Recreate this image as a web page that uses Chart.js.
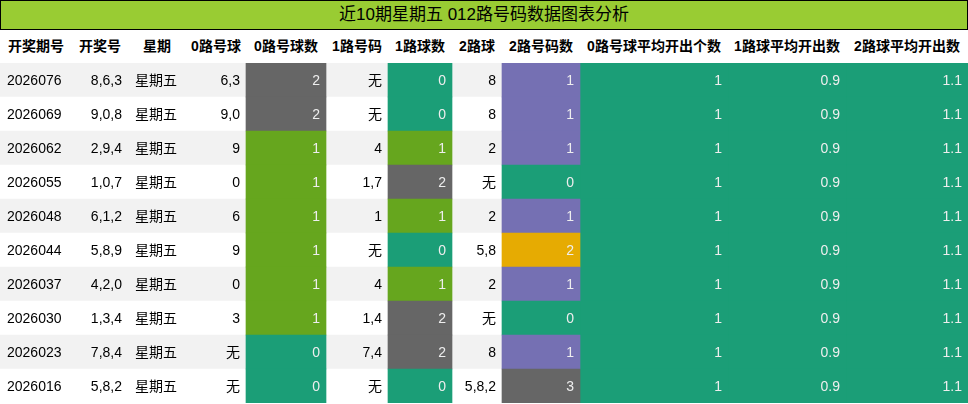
<!DOCTYPE html>
<html>
<head>
<meta charset="utf-8">
<script src="https://cdn.jsdelivr.net/npm/chart.js@4/dist/chart.umd.min.js"></script>
<style>
    body { margin: 0; width: 968px; height: 404px; overflow: hidden; background: #fff; font-family: "Liberation Sans", "Noto Sans CJK SC", sans-serif; }
    #title { box-sizing: border-box; height: 30px; line-height: 28px; background: #99cc33; border: 1px solid #000; text-align: center; font-size: 17px; color: #000; }
    #header { position: relative; height: 33px; }
    #header div { position: absolute; top: 0; height: 33px; line-height: 33px; font-size: 14px; font-weight: bold; text-align: center; }
</style>
</head>
<body>
<div id="title">近10期星期五 012路号码数据图表分析</div>
<div id="header"></div>
<canvas id="table" width="968" height="340"></canvas>
<script>
const headers = ['开奖期号', '开奖号', '星期', '0路号球', '0路号球数', '1路号码', '1路球数', '2路球', '2路号码数', '0路号球平均开出个数', '1路球平均开出数', '2路球平均开出数'];
const issues = ['2026076', '2026069', '2026062', '2026055', '2026048', '2026044', '2026037', '2026030', '2026023', '2026016'];
const draws = ['8,6,3', '9,0,8', '2,9,4', '1,0,7', '6,1,2', '5,8,9', '4,2,0', '1,3,4', '7,8,4', '5,8,2'];
const weekdays = ['星期五', '星期五', '星期五', '星期五', '星期五', '星期五', '星期五', '星期五', '星期五', '星期五'];
const zeroNums = ['6,3', '9,0', '9', '0', '6', '9', '0', '3', '无', '无'];
const zeroCount = [2, 2, 1, 1, 1, 1, 1, 1, 0, 0];
const oneNums = ['无', '无', '4', '1,7', '1', '无', '4', '1,4', '7,4', '无'];
const oneCount = [0, 0, 1, 2, 1, 0, 1, 2, 2, 0];
const twoNums = ['8', '8', '2', '无', '2', '5,8', '2', '无', '8', '5,8,2'];
const twoCount = [1, 1, 1, 0, 1, 2, 1, 0, 1, 3];
const avgZero = [1, 1, 1, 1, 1, 1, 1, 1, 1, 1];
const avgOne = [0.9, 0.9, 0.9, 0.9, 0.9, 0.9, 0.9, 0.9, 0.9, 0.9];
const avgTwo = [1.1, 1.1, 1.1, 1.1, 1.1, 1.1, 1.1, 1.1, 1.1, 1.1];

/* layout */
const edges = [0, 72, 128, 186, 246, 326, 388, 452, 502, 580, 728, 846, 968];
const teal = '#1b9e77', green = '#66a61e', gray = '#666666', purple = '#7570b3', orange = '#e6ab02';
const countColors = { 0: teal, 1: green, 2: gray };
const twoColors = { 0: teal, 1: purple, 2: orange, 3: gray };

const columns = [
    { values: issues, align: 'left' },
    { values: draws },
    { values: weekdays, align: 'left' },
    { values: zeroNums },
    { values: zeroCount, colors: zeroCount.map(v => countColors[v]) },
    { values: oneNums },
    { values: oneCount, colors: oneCount.map(v => countColors[v]) },
    { values: twoNums },
    { values: twoCount, colors: twoCount.map(v => twoColors[v]) },
    { values: avgZero, colors: avgZero.map(() => teal) },
    { values: avgOne, colors: avgOne.map(() => teal) },
    { values: avgTwo, colors: avgTwo.map(() => teal) }
];

const header = document.getElementById('header');
headers.forEach(function (h, i) {
    const d = document.createElement('div');
    d.style.left = edges[i] + 'px';
    d.style.width = (edges[i + 1] - edges[i]) + 'px';
    d.textContent = h;
    header.appendChild(d);
});

const datasets = [{
    data: issues.map(y => ({ x: [0, 968], y: y })),
    backgroundColor: issues.map((_, i) => i % 2 === 0 ? '#f2f2f2' : '#ffffff'),
    order: 10
}];
columns.forEach(function (col, c) {
    if (!col.colors) return;
    datasets.push({
        data: issues.map(y => ({ x: [edges[c], edges[c + 1]], y: y })),
        backgroundColor: col.colors,
        order: 0
    });
});

const cellText = {
    id: 'cellText',
    afterDatasetsDraw(chart) {
        const ctx = chart.ctx, xs = chart.scales.x, ys = chart.scales.y;
        ctx.save();
        ctx.font = '14px "Liberation Sans", "Noto Sans CJK SC", sans-serif';
        ctx.textBaseline = 'middle';
        columns.forEach(function (col, c) {
            const x0 = xs.getPixelForValue(edges[c]), x1 = xs.getPixelForValue(edges[c + 1]);
            col.values.forEach(function (v, r) {
                const y = ys.getPixelForValue(r) + 1;
                ctx.fillStyle = col.colors ? '#eeeeee' : '#000000';
                if (col.align === 'left') {
                    ctx.textAlign = 'left';
                    ctx.fillText(String(v), x0 + 7, y);
                } else {
                    ctx.textAlign = 'right';
                    ctx.fillText(String(v), x1 - 6, y);
                }
            });
        });
        ctx.restore();
    }
};

new Chart(document.getElementById('table').getContext('2d'), {
    type: 'bar',
    data: { labels: issues, datasets: datasets },
    options: {
        indexAxis: 'y',
        responsive: false,
        animation: false,
        grouped: false,
        barPercentage: 1,
        categoryPercentage: 1,
        layout: { padding: 0 },
        scales: {
            x: { type: 'linear', min: 0, max: 968, display: false },
            y: { display: false }
        },
        plugins: { legend: { display: false }, tooltip: { enabled: false } }
    },
    plugins: [cellText]
});
</script>
</body>
</html>
